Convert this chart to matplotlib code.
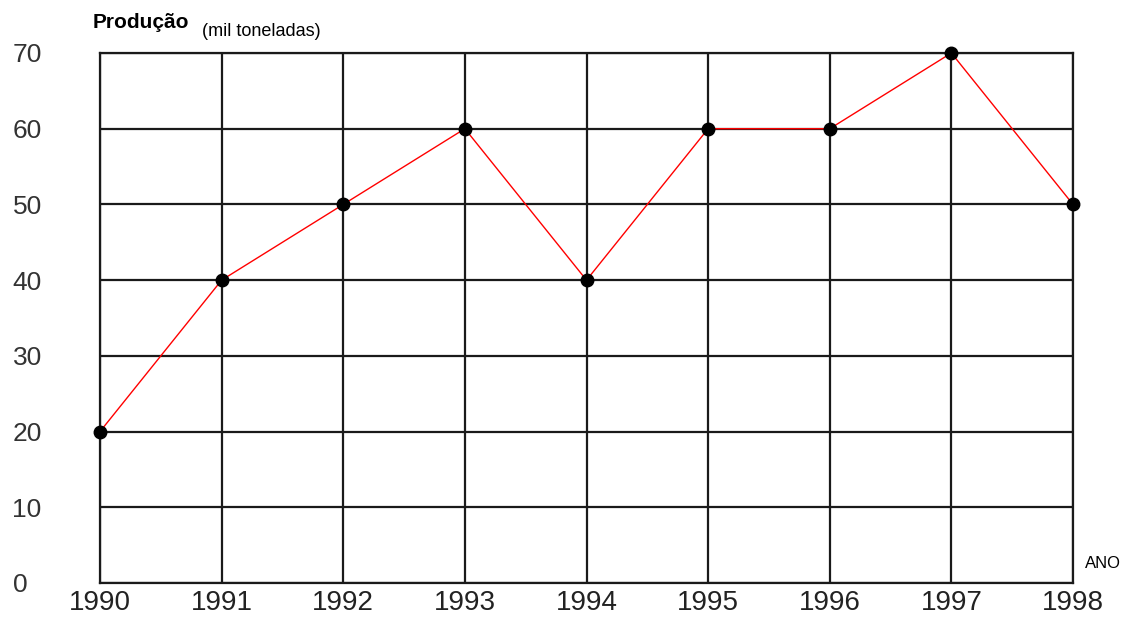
import numpy as np
import matplotlib.pyplot as plt

# Producao anual (mil toneladas)
anos = [1990, 1991, 1992, 1993, 1994, 1995, 1996, 1997, 1998]
producao = [20, 40, 50, 60, 40, 60, 60, 70, 50]
yticks = [0, 10, 20, 30, 40, 50, 60, 70]

plt.rcParams['font.family'] = ['Liberation Sans', 'DejaVu Sans']

fig = plt.figure(figsize=(11.32, 6.19), dpi=100)
ax = fig.add_axes([100/1132, 36/619, 973/1132, 530/619])

ax.plot(anos, producao, color='red', lw=1, zorder=3, clip_on=False)
ax.plot(anos, producao, 'o', color='black', ms=9, zorder=4, clip_on=False)

ax.set_xlim(1990, 1998)
ax.set_ylim(0, 70)
ax.set_xticks(anos)
ax.set_yticks(yticks)
ax.grid(True, color='#1a1a1a', lw=1.6)
ax.set_axisbelow(True)
for s in ax.spines.values():
    s.set_color('#1a1a1a')
    s.set_linewidth(1.6)

ax.tick_params(axis='both', length=0)
ax.tick_params(axis='x', labelsize=20, pad=5, colors='#222222')
ax.tick_params(axis='y', labelsize=19, pad=63, colors='#333333')
for lb in ax.get_yticklabels():
    lb.set_horizontalalignment('left')
    lb.set_fontweight('light')

fig.text(93/1132, 1 - 22/619, 'Produção', fontsize=15, fontweight='bold',
         va='center', ha='left')
fig.text(202/1132, 1 - 31/619, '(mil toneladas)', fontsize=13,
         va='center', ha='left')
fig.text(1085/1132, 1 - 563/619, 'ANO', fontsize=12, va='center', ha='left')

plt.savefig('out.png', dpi=100)
